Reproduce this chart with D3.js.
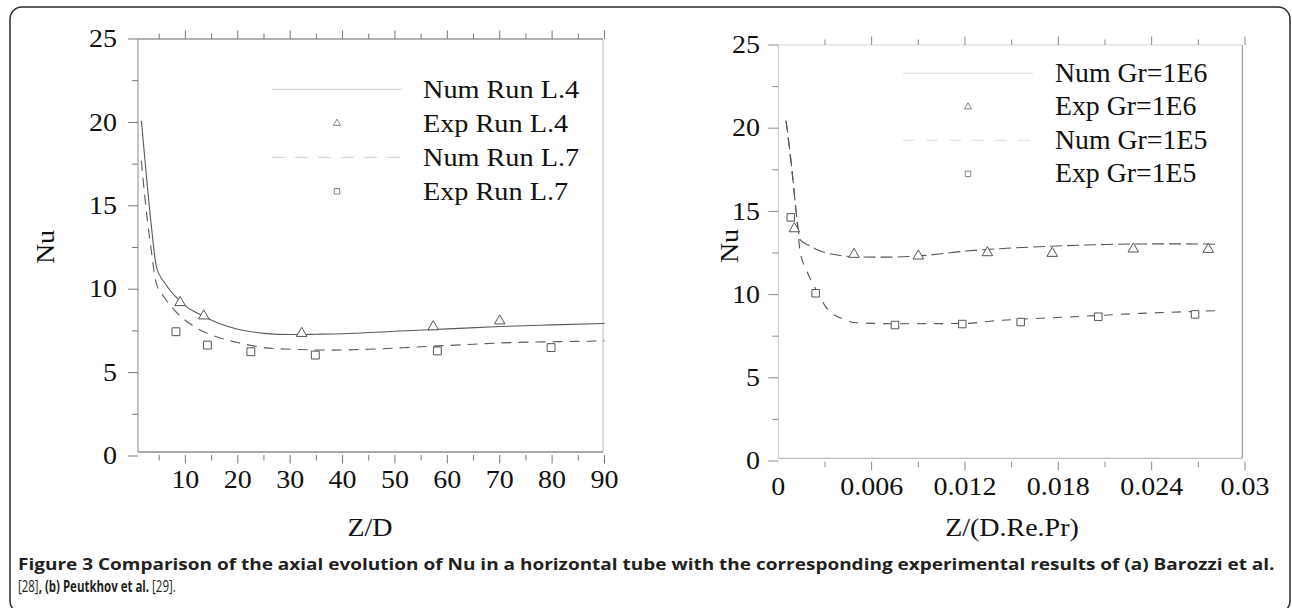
<!DOCTYPE html>
<html><head><meta charset="utf-8">
<script src="https://cdn.jsdelivr.net/npm/d3@7"></script>
<style>html,body{margin:0;padding:0;background:#fff;}svg{display:block;}</style>
</head><body>
<svg id="c" width="1292" height="608"></svg>
<script>
// ---------- data ----------
// Panel (a): Z/D vs Nu
const leftNumL4X = [1.6, 2.5, 3.5, 4.5, 6, 8, 10, 13, 16, 20, 25, 30, 35, 40, 50, 60, 70, 80, 90];
const leftNumL4Y = [20.1, 17.0, 13.8, 11.3, 10.4, 9.6, 9.0, 8.45, 8.0, 7.6, 7.35, 7.28, 7.3, 7.33, 7.48, 7.62, 7.76, 7.86, 7.95];
const leftNumL7X = [1.6, 2.5, 3.5, 4.4, 6, 9, 12, 16.6, 20, 25, 30, 37.6, 45, 55, 65, 72, 80, 90];
const leftNumL7Y = [17.7, 14.8, 12.3, 10.4, 9.5, 8.4, 7.7, 7.08, 6.8, 6.5, 6.4, 6.35, 6.4, 6.55, 6.7, 6.8, 6.85, 6.9];
const leftExpL4X = [9.0, 13.5, 32.2, 57.3, 70.0];
const leftExpL4Y = [9.2, 8.4, 7.35, 7.75, 8.1];
const leftExpL7X = [8.2, 14.2, 22.5, 34.8, 58.1, 79.8];
const leftExpL7Y = [7.45, 6.65, 6.25, 6.05, 6.3, 6.5];
const leftXTicks = [10, 20, 30, 40, 50, 60, 70, 80, 90];
const leftLegend = ["Num Run L.4", "Exp Run L.4", "Num Run L.7", "Exp Run L.7"];

// Panel (b): Z/(D.Re.Pr) vs Nu
const rightNumGr6X = [0.0005, 0.00086, 0.00118, 0.0014, 0.002, 0.0025, 0.0035, 0.0048, 0.0069, 0.009, 0.0121, 0.015, 0.0179, 0.0205, 0.0228, 0.0255, 0.0281];
const rightNumGr6Y = [20.45, 17.7, 14.7, 13.3, 12.95, 12.7, 12.42, 12.28, 12.25, 12.32, 12.62, 12.8, 12.92, 13.0, 13.04, 13.05, 13.03];
const rightNumGr5X = [0.0005, 0.0009, 0.0012, 0.0014, 0.0018, 0.0025, 0.0031, 0.0042, 0.005, 0.0078, 0.0121, 0.0136, 0.019, 0.0233, 0.0281];
const rightNumGr5Y = [20.45, 17.2, 14.5, 12.6, 11.5, 10.17, 9.2, 8.52, 8.31, 8.25, 8.27, 8.4, 8.67, 8.87, 9.03];
const rightExpGr6X = [0.00103, 0.00487, 0.009, 0.01344, 0.01761, 0.02282, 0.02764];
const rightExpGr6Y = [13.96, 12.42, 12.32, 12.52, 12.48, 12.74, 12.72];
const rightExpGr5X = [0.0008, 0.0024, 0.0075, 0.01183, 0.01558, 0.02057, 0.02679];
const rightExpGr5Y = [14.64, 10.08, 8.17, 8.23, 8.35, 8.67, 8.81];
const rightXTicks = [0, 0.006, 0.012, 0.018, 0.024, 0.03];
const rightXTickLabels = ["0", "0.006", "0.012", "0.018", "0.024", "0.03"];
const rightLegend = ["Num Gr=1E6", "Exp Gr=1E6", "Num Gr=1E5", "Exp Gr=1E5"];

const yTicks = [0, 5, 10, 15, 20, 25];
const yMinorTicks = [2.5, 7.5, 12.5, 17.5, 22.5];

const captionLine1 = "Figure 3 Comparison of the axial evolution of Nu in a horizontal tube with the corresponding experimental results of (a) Barozzi et al.";
const captionLine2 = [["[28]", "normal"], [", (b) Peutkhov et al.", "bold"], [" [29].", "normal"]];

// ---------- drawing ----------
const svg = d3.select("#c");
const SERIF = "'Liberation Serif','Times New Roman',serif";
const zip = (xs, ys) => xs.map((x, i) => [x, ys[i]]);

function stretch(sel, s) {
  sel.each(function () {
    const t = d3.select(this);
    const ax = +t.attr("x") || 0;
    t.attr("transform", `translate(${ax},0) scale(${s},1) translate(${-ax},0)`);
  });
}

// frame
svg.append("rect").attr("x", 10).attr("y", 7).attr("width", 1280).attr("height", 606)
  .attr("rx", 12).attr("fill", "none").attr("stroke", "#2a2a2a").attr("stroke-width", 1.5);

function panel(cfg) {
  const g = svg.append("g");
  const { x, y, box } = cfg;
  // axis lines
  g.append("line").attr("x1", box.x0).attr("x2", box.x0).attr("y1", box.y0).attr("y2", box.y1).attr("stroke", cfg.cLeft);
  g.append("line").attr("x1", box.x0).attr("x2", box.x1).attr("y1", box.y1).attr("y2", box.y1).attr("stroke", cfg.cBottom).attr("stroke-width", 1.2);
  g.append("line").attr("x1", box.x1).attr("x2", box.x1).attr("y1", box.y0).attr("y2", box.y1).attr("stroke", cfg.cRight);
  g.append("line").attr("x1", box.x0).attr("x2", box.x1).attr("y1", box.y0).attr("y2", box.y0).attr("stroke", cfg.cTop);

  // y ticks
  g.selectAll(null).data(yTicks).join("line")
    .attr("x1", box.x0 - 10).attr("x2", box.x0).attr("y1", d => y(d)).attr("y2", d => y(d))
    .attr("stroke", cfg.cTick);
  g.selectAll(null).data(yMinorTicks).join("line")
    .attr("x1", box.x0 - 6).attr("x2", box.x0).attr("y1", d => y(d)).attr("y2", d => y(d))
    .attr("stroke", cfg.cTick);
  g.selectAll(null).data(yTicks).join("text")
    .attr("x", cfg.yLabelX).attr("y", d => y(d) + 8.3)
    .attr("text-anchor", "end").attr("font-family", SERIF).attr("font-size", 25).attr("fill", "#111")
    .text(d => d).call(stretch, 1.12);

  // x ticks top & bottom
  const [d0, d1] = x.domain();
  const minor = d3.range(0, cfg.nMinor + 1).map(i => d0 + i * cfg.step / 2).filter(v => v > d0 + 1e-12 && v <= d1 + 1e-12);
  minor.forEach((v, i) => {
    const major = (i % 2 === 1);
    const len = major ? 8.5 : 5.5;
    g.append("line").attr("x1", x(v)).attr("x2", x(v)).attr("y1", box.y0 - len).attr("y2", box.y0).attr("stroke", cfg.cTick);
    g.append("line").attr("x1", x(v)).attr("x2", x(v)).attr("y1", cfg.bTickY).attr("y2", cfg.bTickY + len).attr("stroke", cfg.cTick);
  });
  g.selectAll(null).data(cfg.xTicks).join("text")
    .attr("x", d => x(d)).attr("y", cfg.xLabelY)
    .attr("text-anchor", "middle").attr("font-family", SERIF).attr("font-size", 25).attr("fill", "#111")
    .text((d, i) => cfg.xTickLabels ? cfg.xTickLabels[i] : d).call(stretch, 1.12);

  // axis titles
  g.append("text").attr("x", cfg.xTitleX).attr("y", cfg.xTitleY).attr("text-anchor", "middle")
    .attr("font-family", SERIF).attr("font-size", 25).attr("fill", "#111").text(cfg.xTitle).call(stretch, 1.12);
  g.append("text").attr("transform", `translate(${cfg.yTitleX},${cfg.yTitleY}) rotate(-90) scale(1.12,1)`)
    .attr("text-anchor", "middle").attr("font-family", SERIF).attr("font-size", 25).attr("fill", "#111").text("Nu");

  // curves
  const line = d3.line().x(d => x(d[0])).y(d => y(d[1])).curve(d3.curveMonotoneX);
  cfg.lines.forEach(L => {
    g.append("path").datum(zip(L.x, L.y)).attr("d", line).attr("fill", "none")
      .attr("stroke", L.color).attr("stroke-width", 1.1).attr("stroke-dasharray", L.dash || null);
  });
  // markers
  cfg.markers.forEach(M => {
    const sym = d3.symbol().type(M.type).size(M.size);
    g.selectAll(null).data(zip(M.x, M.y)).join("path")
      .attr("transform", d => `translate(${x(d[0])},${y(d[1])})`).attr("d", sym)
      .attr("fill", "#fff").attr("stroke", "#555").attr("stroke-width", 1);
  });

  // legend
  const lg = cfg.legend;
  lg.labels.forEach((lab, i) => {
    const yy = lg.y0 + i * lg.dy;
    const kind = lg.kinds[i];
    if (kind === "solid" || kind === "dash") {
      g.append("line").attr("x1", lg.x0).attr("x2", lg.x1).attr("y1", yy).attr("y2", yy)
        .attr("stroke", lg.color).attr("stroke-width", 1).attr("stroke-dasharray", kind === "dash" ? lg.dash : null);
    } else {
      const sym = d3.symbol().type(kind === "tri" ? d3.symbolTriangle : d3.symbolSquare).size(kind === "tri" ? 22 : 30);
      g.append("path").attr("transform", `translate(${(lg.x0 + lg.x1) / 2},${yy})`).attr("d", sym)
        .attr("fill", "#fff").attr("stroke", "#777").attr("stroke-width", 0.9);
    }
    g.append("text").attr("x", lg.tx).attr("y", yy + lg.base).attr("font-family", SERIF)
      .attr("font-size", lg.fs).attr("fill", "#111").text(lab).call(stretch, lg.s);
  });
}

const xL = d3.scaleLinear([0, 90], [133, 604.5]);
const yL = d3.scaleLinear([0, 25], [456, 39]);
panel({
  x: xL, y: yL, box: { x0: 138, x1: 603, y0: 39, y1: 452 },
  cLeft: "#8c8c8c", cBottom: "#555", cRight: "#bdbdbd", cTop: "#666", cTick: "#777",
  yLabelX: 117, bTickY: 455, xLabelY: 488, step: 10, nMinor: 18,
  xTicks: leftXTicks, xTitle: "Z/D", xTitleX: 370, xTitleY: 536, yTitleX: 54, yTitleY: 247,
  lines: [
    { x: leftNumL4X, y: leftNumL4Y, color: "#5a5a5a" },
    { x: leftNumL7X, y: leftNumL7Y, color: "#5a5a5a", dash: "10,7" }
  ],
  markers: [
    { x: leftExpL4X, y: leftExpL4Y, type: d3.symbolTriangle, size: 48 },
    { x: leftExpL7X, y: leftExpL7Y, type: d3.symbolSquare, size: 62 }
  ],
  legend: { labels: leftLegend, kinds: ["solid", "tri", "dash", "sq"], x0: 272, x1: 402, y0: 89.3, dy: 34,
    tx: 423, base: 9, fs: 25, s: 1.13, color: "#d0d0d0", dash: "13,10" }
});

const xR = d3.scaleLinear([0, 0.03], [778.3, 1245]);
const yR = d3.scaleLinear([0, 25], [461, 45]);
panel({
  x: xR, y: yR, box: { x0: 778.3, x1: 1242.3, y0: 45, y1: 458.3 },
  cLeft: "#c8c8c8", cBottom: "#bbb", cRight: "#8c8c8c", cTop: "#d5d5d5", cTick: "#8a8a8a",
  yLabelX: 760, bTickY: 461.7, xLabelY: 495, step: 0.006, nMinor: 10,
  xTicks: rightXTicks, xTickLabels: rightXTickLabels, xTitle: "Z/(D.Re.Pr)", xTitleX: 1012, xTitleY: 536,
  yTitleX: 738, yTitleY: 246,
  lines: [
    { x: rightNumGr6X, y: rightNumGr6Y, color: "#555", dash: "12,5" },
    { x: rightNumGr5X, y: rightNumGr5Y, color: "#555", dash: "9,8" }
  ],
  markers: [
    { x: rightExpGr6X, y: rightExpGr6Y, type: d3.symbolTriangle, size: 48 },
    { x: rightExpGr5X, y: rightExpGr5Y, type: d3.symbolSquare, size: 56 }
  ],
  legend: { labels: rightLegend, kinds: ["solid", "tri", "dash", "sq"], x0: 903, x1: 1033, y0: 73.3, dy: 33.5,
    tx: 1055, base: 8.4, fs: 27, s: 1.03, color: "#dcdcdc", dash: "12,11" }
});

// caption: scale each line horizontally to its measured width in the reference
const CAP = "'Open Sans','Noto Sans',sans-serif";
function fitWidth(t, x0, w) {
  const nat = t.node().getComputedTextLength();
  const s = w / nat;
  t.attr("transform", `translate(${x0},0) scale(${s},1) translate(${-x0},0)`);
}
const c1 = svg.append("text").attr("x", 18).attr("y", 570).attr("font-family", CAP).attr("font-weight", "bold")
  .attr("font-size", 16).attr("fill", "#231f20").text(captionLine1);
fitWidth(c1, 18, 1258);
const c2 = svg.append("text").attr("x", 18).attr("y", 592).attr("font-family", CAP)
  .attr("font-size", 16).attr("fill", "#231f20");
captionLine2.forEach(([t, w]) => c2.append("tspan").attr("font-weight", w).text(t));
fitWidth(c2, 18, 158);
</script>
</body></html>
